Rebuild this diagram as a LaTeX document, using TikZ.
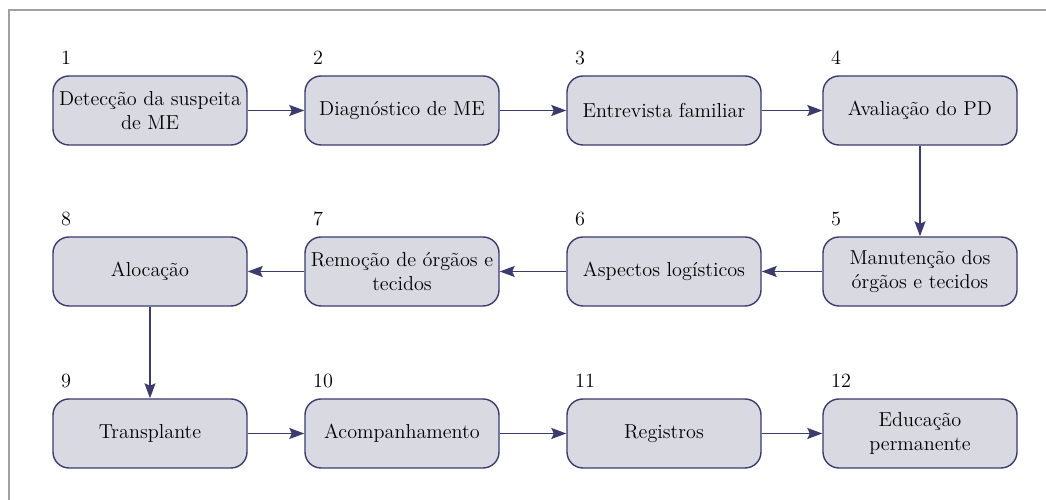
\documentclass[tikz,border=0pt]{standalone}
\usepackage{tikz}
\usetikzlibrary{arrows.meta}
\usetikzlibrary{positioning}

\definecolor{boxfill}{HTML}{D8D9E1}
\definecolor{navy}{HTML}{3B3B70}
\definecolor{framegray}{HTML}{A0A0A0}

\begin{document}
\begin{tikzpicture}
		\useasboundingbox (0,0) rectangle (20.92,10);
		\draw[framegray, line width=0.6pt] (0.18,-1) |- (22,9.8);

		\begin{scope}[every node/.style={draw=navy,fill=boxfill,line width=0.8pt,
		              rounded corners=0.32cm,minimum width=3.88cm,minimum height=1.38cm,
		              inner sep=2pt,align=center,font=\fontsize{11.5}{13.8}\selectfont}]
			\node (b1) at (3.00,7.79) {Detecção da suspeita\\de ME};
			\node (b2) at (8.04,7.79) {Diagnóstico de ME};
			\node (b3) at (13.28,7.79) {Entrevista familiar};
			\node (b4) at (18.40,7.79) {Avaliação do PD};
			\node (b5) at (18.40,4.57) {Manutenção dos\\órgãos e tecidos};
			\node (b6) at (13.28,4.57) {Aspectos logísticos};
			\node (b7) at (8.04,4.57) {Remoção de órgãos e\\tecidos};
			\node (b8) at (3.00,4.57) {Alocação};
			\node (b9) at (3.00,1.33) {Transplante};
			\node (b10) at (8.04,1.33) {Acompanhamento};
			\node (b11) at (13.28,1.33) {Registros};
			\node (b12) at (18.40,1.33) {Educação\\permanente};
		\end{scope}

		\begin{scope}[every node/.style={inner sep=0pt,anchor=south west,
		              font=\fontsize{11.5}{13.8}\selectfont}]
			\node[above right=0.2 and 0.17 of b1.north west] (n1) {1};
			\node[above right=0.2 and 0.17 of b2.north west] (n2) {2};
			\node[above right=0.2 and 0.17 of b3.north west] (n3) {3};
			\node[above right=0.2 and 0.17 of b4.north west] (n4) {4};
			\node[above right=0.2 and 0.17 of b5.north west] (n5) {5};
			\node[above right=0.2 and 0.17 of b6.north west] (n6) {6};
			\node[above right=0.2 and 0.17 of b7.north west] (n7) {7};
			\node[above right=0.2 and 0.17 of b8.north west] (n8) {8};
			\node[above right=0.2 and 0.17 of b9.north west] (n9) {9};
			\node[above right=0.2 and 0.17 of b10.north west] (n10) {10};
			\node[above right=0.2 and 0.17 of b11.north west] (n11) {11};
			\node[above right=0.2 and 0.17 of b12.north west] (n12) {12};
		\end{scope}

		\begin{scope}[>={Stealth[length=3mm,width=2.2mm,inset=0.5mm]},
		              every edge/.style={draw=navy,line width=0.8pt,->}]
			\path (b1) edge (b2);
			\path (b2) edge (b3);
			\path (b3) edge (b4);
			\path (b4) edge (b5);
			\path (b5) edge (b6);
			\path (b6) edge (b7);
			\path (b7) edge (b8);
			\path (b8) edge (b9);
			\path (b9) edge (b10);
			\path (b10) edge (b11);
			\path (b11) edge (b12);
		\end{scope}
\end{tikzpicture}
\end{document}
